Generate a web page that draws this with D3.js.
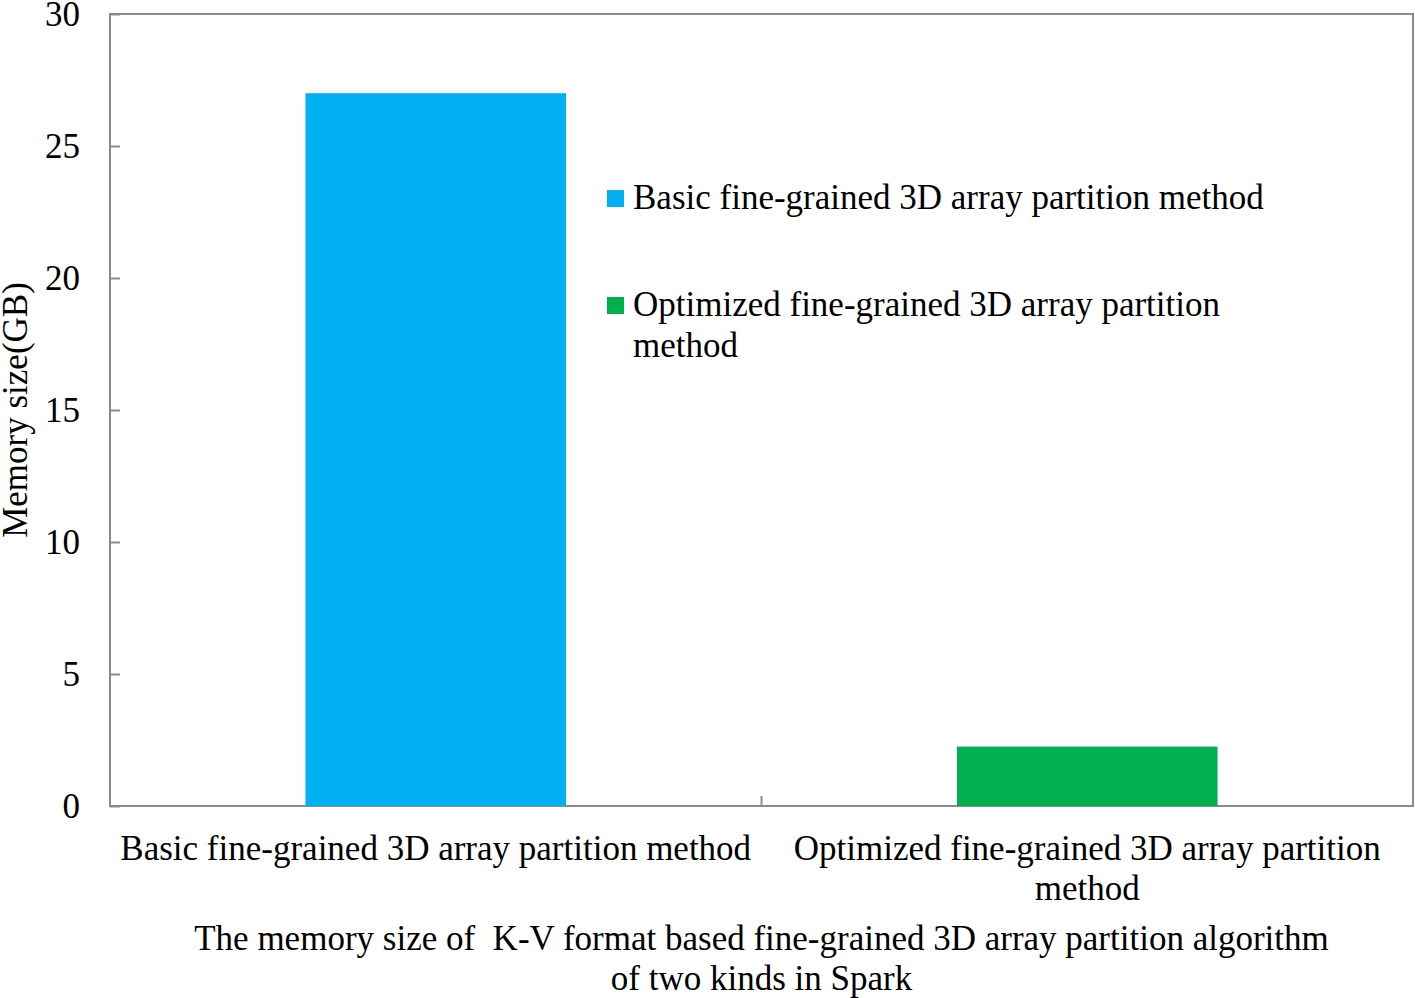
<!DOCTYPE html>
<html>
<head>
<meta charset="utf-8">
<script src="https://cdn.jsdelivr.net/npm/d3@7"></script>
<style>
  body { margin: 0; background: #fff; }
  svg text { font-family: "Liberation Serif", "Times New Roman", serif; fill: #000; white-space: pre; }
</style>
</head>
<body>
<svg id="chart" width="1415" height="998"></svg>
<script>
// data
var categories = ["Basic fine-grained 3D array partition method",
                  "Optimized fine-grained 3D array partition method"];
var catLines = [["Basic fine-grained 3D array partition method"],
                ["Optimized fine-grained 3D array partition", "method"]];
var memoryGB = [27, 2.25];
var barColors = ["#00B0F0", "#00B050"];
var legendLines = [["Basic fine-grained 3D array partition method"],
                   ["Optimized fine-grained 3D array partition", "method"]];
var yTicks = [0, 5, 10, 15, 20, 25, 30];
var yLabel = "Memory size(GB)";
var titleLines = ["The memory size of  K-V format based fine-grained 3D array partition algorithm",
                  "of two kinds in Spark"];

var svg = d3.select("#chart");
var mLeft = 110, mRight = 1413, mTop = 14, mBottom = 806;
var fs = 35;

var x = d3.scaleBand().domain(categories).range([mLeft, mRight]).paddingInner(0).paddingOuter(0);
var y = d3.scaleLinear().domain([0, 30]).range([mBottom, mTop]);

// frame
svg.append("rect")
    .attr("x", mLeft).attr("y", mTop)
    .attr("width", mRight - mLeft).attr("height", mBottom - mTop)
    .attr("fill", "none").attr("stroke", "#8c8c8c").attr("stroke-width", 2);

// bars
var bw = x.bandwidth() * 0.4;
svg.selectAll("rect.bar")
    .data(memoryGB)
    .enter()
    .append("rect")
    .attr("class", "bar")
    .attr("x", function(d, i) { return x(categories[i]) + (x.bandwidth() - bw) / 2; })
    .attr("y", function(d) { return y(d); })
    .attr("width", bw)
    .attr("height", function(d) { return y(0) - y(d); })
    .attr("fill", function(d, i) { return barColors[i]; });

// y axis ticks (inside) and labels
var yAxis = svg.append("g").attr("transform", "translate(" + mLeft + ",0)")
    .call(d3.axisRight(y).tickValues(yTicks).tickSize(10).tickFormat(""));
yAxis.select(".domain").remove();
yAxis.selectAll("line").attr("stroke", "#8c8c8c").attr("stroke-width", 2);

svg.selectAll("text.ytick")
    .data(yTicks)
    .enter()
    .append("text")
    .attr("class", "ytick")
    .attr("x", 80)
    .attr("y", function(d) { return y(d); })
    .attr("dy", "0.35em")
    .attr("text-anchor", "end")
    .attr("font-size", fs)
    .text(function(d) { return d; });

// tick between the categories on the x axis
svg.append("line")
    .attr("x1", x(categories[1])).attr("x2", x(categories[1]))
    .attr("y1", mBottom).attr("y2", mBottom - 10)
    .attr("stroke", "#8c8c8c").attr("stroke-width", 2);

// category labels
catLines.forEach(function(lines, i) {
    var t = svg.append("text")
        .attr("text-anchor", "middle")
        .attr("font-size", fs)
        .attr("y", 860);
    lines.forEach(function(l, j) {
        t.append("tspan")
            .attr("x", x(categories[i]) + x.bandwidth() / 2)
            .attr("dy", j === 0 ? 0 : 40)
            .text(l);
    });
});

// title
var tt = svg.append("text").attr("text-anchor", "middle").attr("font-size", fs).attr("y", 950);
titleLines.forEach(function(l, j) {
    tt.append("tspan").attr("x", (mLeft + mRight) / 2).attr("dy", j === 0 ? 0 : 40).text(l);
});

// y label
svg.append("text")
    .attr("transform", "translate(27," + ((mTop + mBottom) / 2) + ") rotate(-90)")
    .attr("text-anchor", "middle")
    .attr("font-size", fs)
    .text(yLabel);

// legend
var legY = [198, 305];
legendLines.forEach(function(lines, i) {
    svg.append("rect")
        .attr("x", 607).attr("y", legY[i] - 8)
        .attr("width", 17).attr("height", 17)
        .attr("fill", barColors[i]);
    var t = svg.append("text").attr("font-size", fs).attr("y", legY[i] + 11);
    lines.forEach(function(l, j) {
        t.append("tspan").attr("x", 633).attr("dy", j === 0 ? 0 : 41).text(l);
    });
});
</script>
</body>
</html>
